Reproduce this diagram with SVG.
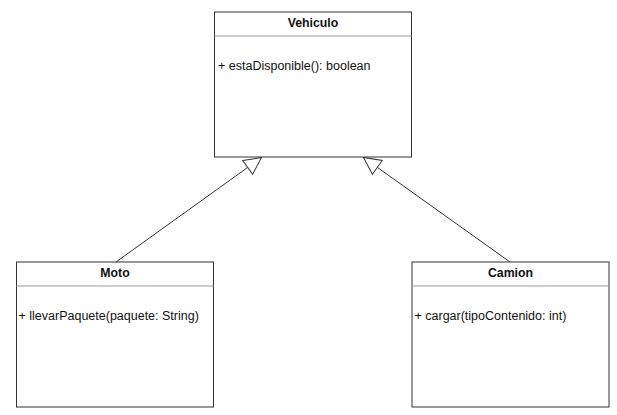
<svg xmlns="http://www.w3.org/2000/svg" width="617" height="415" viewBox="0 0 617 415">
<style>
.box{fill:#fff;stroke:#333;stroke-width:1}
.div{stroke:#999;stroke-width:1}
.title{font-family:"Liberation Sans",Arial,sans-serif;font-size:12.3px;font-weight:bold;fill:#111;text-anchor:middle}
.m{font-family:"Liberation Sans",Arial,sans-serif;font-size:12.5px;fill:#111}
.edge{stroke:#333;stroke-width:1;fill:none}
</style>
<defs>
<marker id="inh" viewBox="0 0 20 20" refX="18" refY="10" markerWidth="20" markerHeight="20" markerUnits="userSpaceOnUse" orient="auto">
<path d="M1,1.5 L18,10 L1,18.5 Z" fill="#fff" stroke="#333" stroke-width="1"/>
</marker>
</defs>
<rect width="617" height="415" fill="#fff"/>
<g id="connectors">
<line class="edge" x1="116" y1="262" x2="261.5" y2="157.5" marker-end="url(#inh)"/>
<line class="edge" x1="510" y1="262" x2="363.5" y2="157.5" marker-end="url(#inh)"/>
</g>
<g id="vehiculo">
<rect class="box" x="214.5" y="12" width="197" height="145"/>
<line class="div" x1="214.5" y1="36" x2="411.5" y2="36"/>
<text class="title" x="313" y="27">Vehiculo</text>
<text class="m" x="218" y="69.5">+ estaDisponible(): boolean</text>
</g>
<g id="moto">
<rect class="box" x="16.5" y="262" width="197" height="145"/>
<line class="div" x1="16.5" y1="286" x2="213.5" y2="286"/>
<text class="title" x="115" y="277">Moto</text>
<text class="m" x="18.5" y="320">+ llevarPaquete(paquete: String)</text>
</g>
<g id="camion">
<rect class="box" x="412" y="262" width="197" height="145"/>
<line class="div" x1="412" y1="286" x2="609" y2="286"/>
<text class="title" x="510.5" y="277">Camion</text>
<text class="m" x="414.5" y="320">+ cargar(tipoContenido: int)</text>
</g>
</svg>
